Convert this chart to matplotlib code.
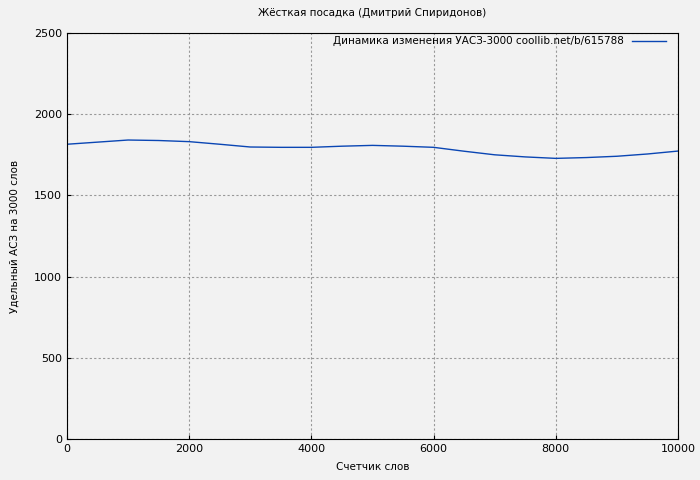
import matplotlib
matplotlib.use("Agg")
import matplotlib.pyplot as plt

words = [0,500,1000,1500,2000,2500,3000,3500,4000,4500,5000,5500,6000,6500,7000,7500,8000,8500,9000,9500,10000]
asz = [1815,1828,1841,1838,1831,1815,1798,1796,1796,1803,1808,1803,1796,1772,1750,1737,1728,1733,1741,1755,1773]

fig = plt.figure(figsize=(7,4.8), dpi=100, facecolor='#f2f2f2')
ax = fig.add_axes([67/700, 1-439/480, 611/700, 406/480])
ax.set_facecolor('#f2f2f2')
ax.plot(words, asz, color='#0a46b4', lw=1, label='Динамика изменения УАСЗ-3000 coollib.net/b/615788')
ax.set_xlim(0,10000); ax.set_ylim(0,2500)
ax.set_xticks([0,2000,4000,6000,8000,10000]); ax.set_yticks([0,500,1000,1500,2000,2500])
ax.grid(True, color='#999999', ls=(0,(2,2)), lw=0.8)
ax.tick_params(labelsize=8, direction='in', length=3)
ax.set_xlabel('Счетчик слов', fontsize=7.5, labelpad=6)
ax.set_ylabel('Удельный АСЗ на 3000 слов', fontsize=7.5, labelpad=10)
ax.set_title('Жёсткая посадка (Дмитрий Спиридонов)', fontsize=7.5, pad=12)
ax.legend(loc='upper right', bbox_to_anchor=(0.995, 1.015), frameon=False, fontsize=7.5,
          markerfirst=False, handlelength=3.2)
fig.savefig('out.png', dpi=100, facecolor=fig.get_facecolor())
